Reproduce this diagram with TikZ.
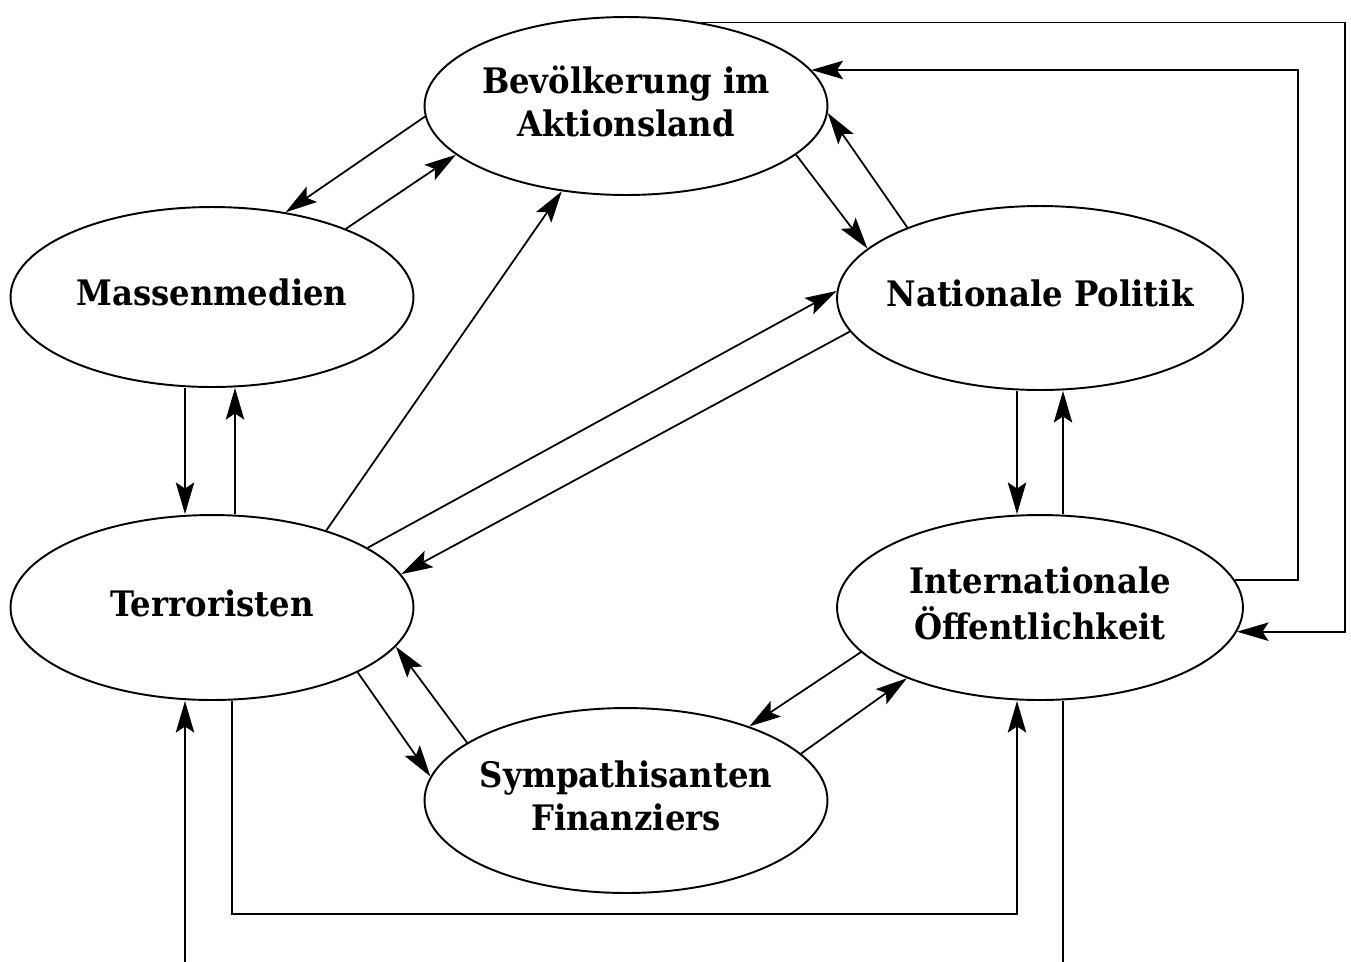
\documentclass[tikz,border=0pt]{standalone}
\usepackage{fontspec}
\setmainfont{DejaVu Serif}[FakeStretch=0.92]
\usetikzlibrary{shapes.geometric,arrows.meta}
\newcommand{\lbl}[1]{\makebox[0pt]{\begin{tabular}{@{}c@{}}#1\end{tabular}}}

\begin{document}
\begin{tikzpicture}
  [x=0.02cm,y=-0.02cm,line width=1pt,
   ell/.style={ellipse,draw,line width=1.1pt,inner sep=0pt,minimum width=8.06cm,
     minimum height=3.7cm,font=\fontsize{20}{24.5}\selectfont\bfseries},
   arr/.style={-{Stealth[length=18pt,width=10.5pt,inset=3.5pt]}}]
  \useasboundingbox (0,0) rectangle (1351,961);

  \node[ell,minimum height=3.56cm] (bev) at (626,106) {\lbl{Bevölkerung im\\Aktionsland}};
  \node[ell,minimum height=3.6cm] (mm) at (212,297) {\lbl{Massenmedien}};
  \node[ell,minimum width=8.12cm,minimum height=3.68cm] (np) at (1040,298) {\lbl{Nationale Politik}};
  \node[ell] (tr) at (212,607.5) {\lbl{Terroristen}};
  \node[ell,minimum width=8.12cm] (io) at (1040,607.5) {\lbl{Internationale\\Öffentlichkeit}};
  \node[ell] (sy) at (626,800.5) {\lbl{Sympathisanten\\Finanziers}};

  \coordinate (r1) at (1345,0);
  \coordinate (r2) at (1298,0);

  \draw[arr] (bev.183) -- (mm.49);
  \draw[arr] (mm.27) -- (bev.196);
  \draw[arr] (tr.34) -- (bev.233);
  \draw[arr] (bev.344) -- (np.164);
  \draw[arr] (np.152) -- (bev.358);
  \draw[arr] (tr.21) -- (np.178);
  \draw[arr] (np.190) -- (tr.10);
  \draw[arr] (tr.336) -- (sy.173);
  \draw[arr] (sy.160) -- (tr.348);
  \draw[arr] (io.194) -- (sy.31);
  \draw[arr] (sy.15) -- (io.208);

  \draw[arr] ([xshift=-0.54cm]mm.south) -- ([xshift=-0.54cm]tr.north);
  \draw[arr] ([xshift=0.46cm]tr.north) -- ([xshift=0.46cm]mm.south);
  \draw[arr] ([xshift=-0.46cm]np.south) -- ([xshift=-0.46cm]io.north);
  \draw[arr] ([xshift=0.46cm]io.north) -- ([xshift=0.46cm]np.south);

  \draw[arr] (bev.48) -- (bev.48 -| r1) |- (io.-7);
  \draw[arr] (io.8) -| (bev.11 -| r2) -- (bev.11);
  \draw[arr] ([xshift=0.4cm]tr.south) -- ++(0,213) -| ([xshift=-0.46cm]io.south);
  \draw[arr] ([xshift=-0.54cm,yshift=-5.22cm]tr.south) -- ([xshift=-0.54cm]tr.south);
  \draw ([xshift=0.46cm]io.south) -- ++(0,261);
\end{tikzpicture}
\end{document}
